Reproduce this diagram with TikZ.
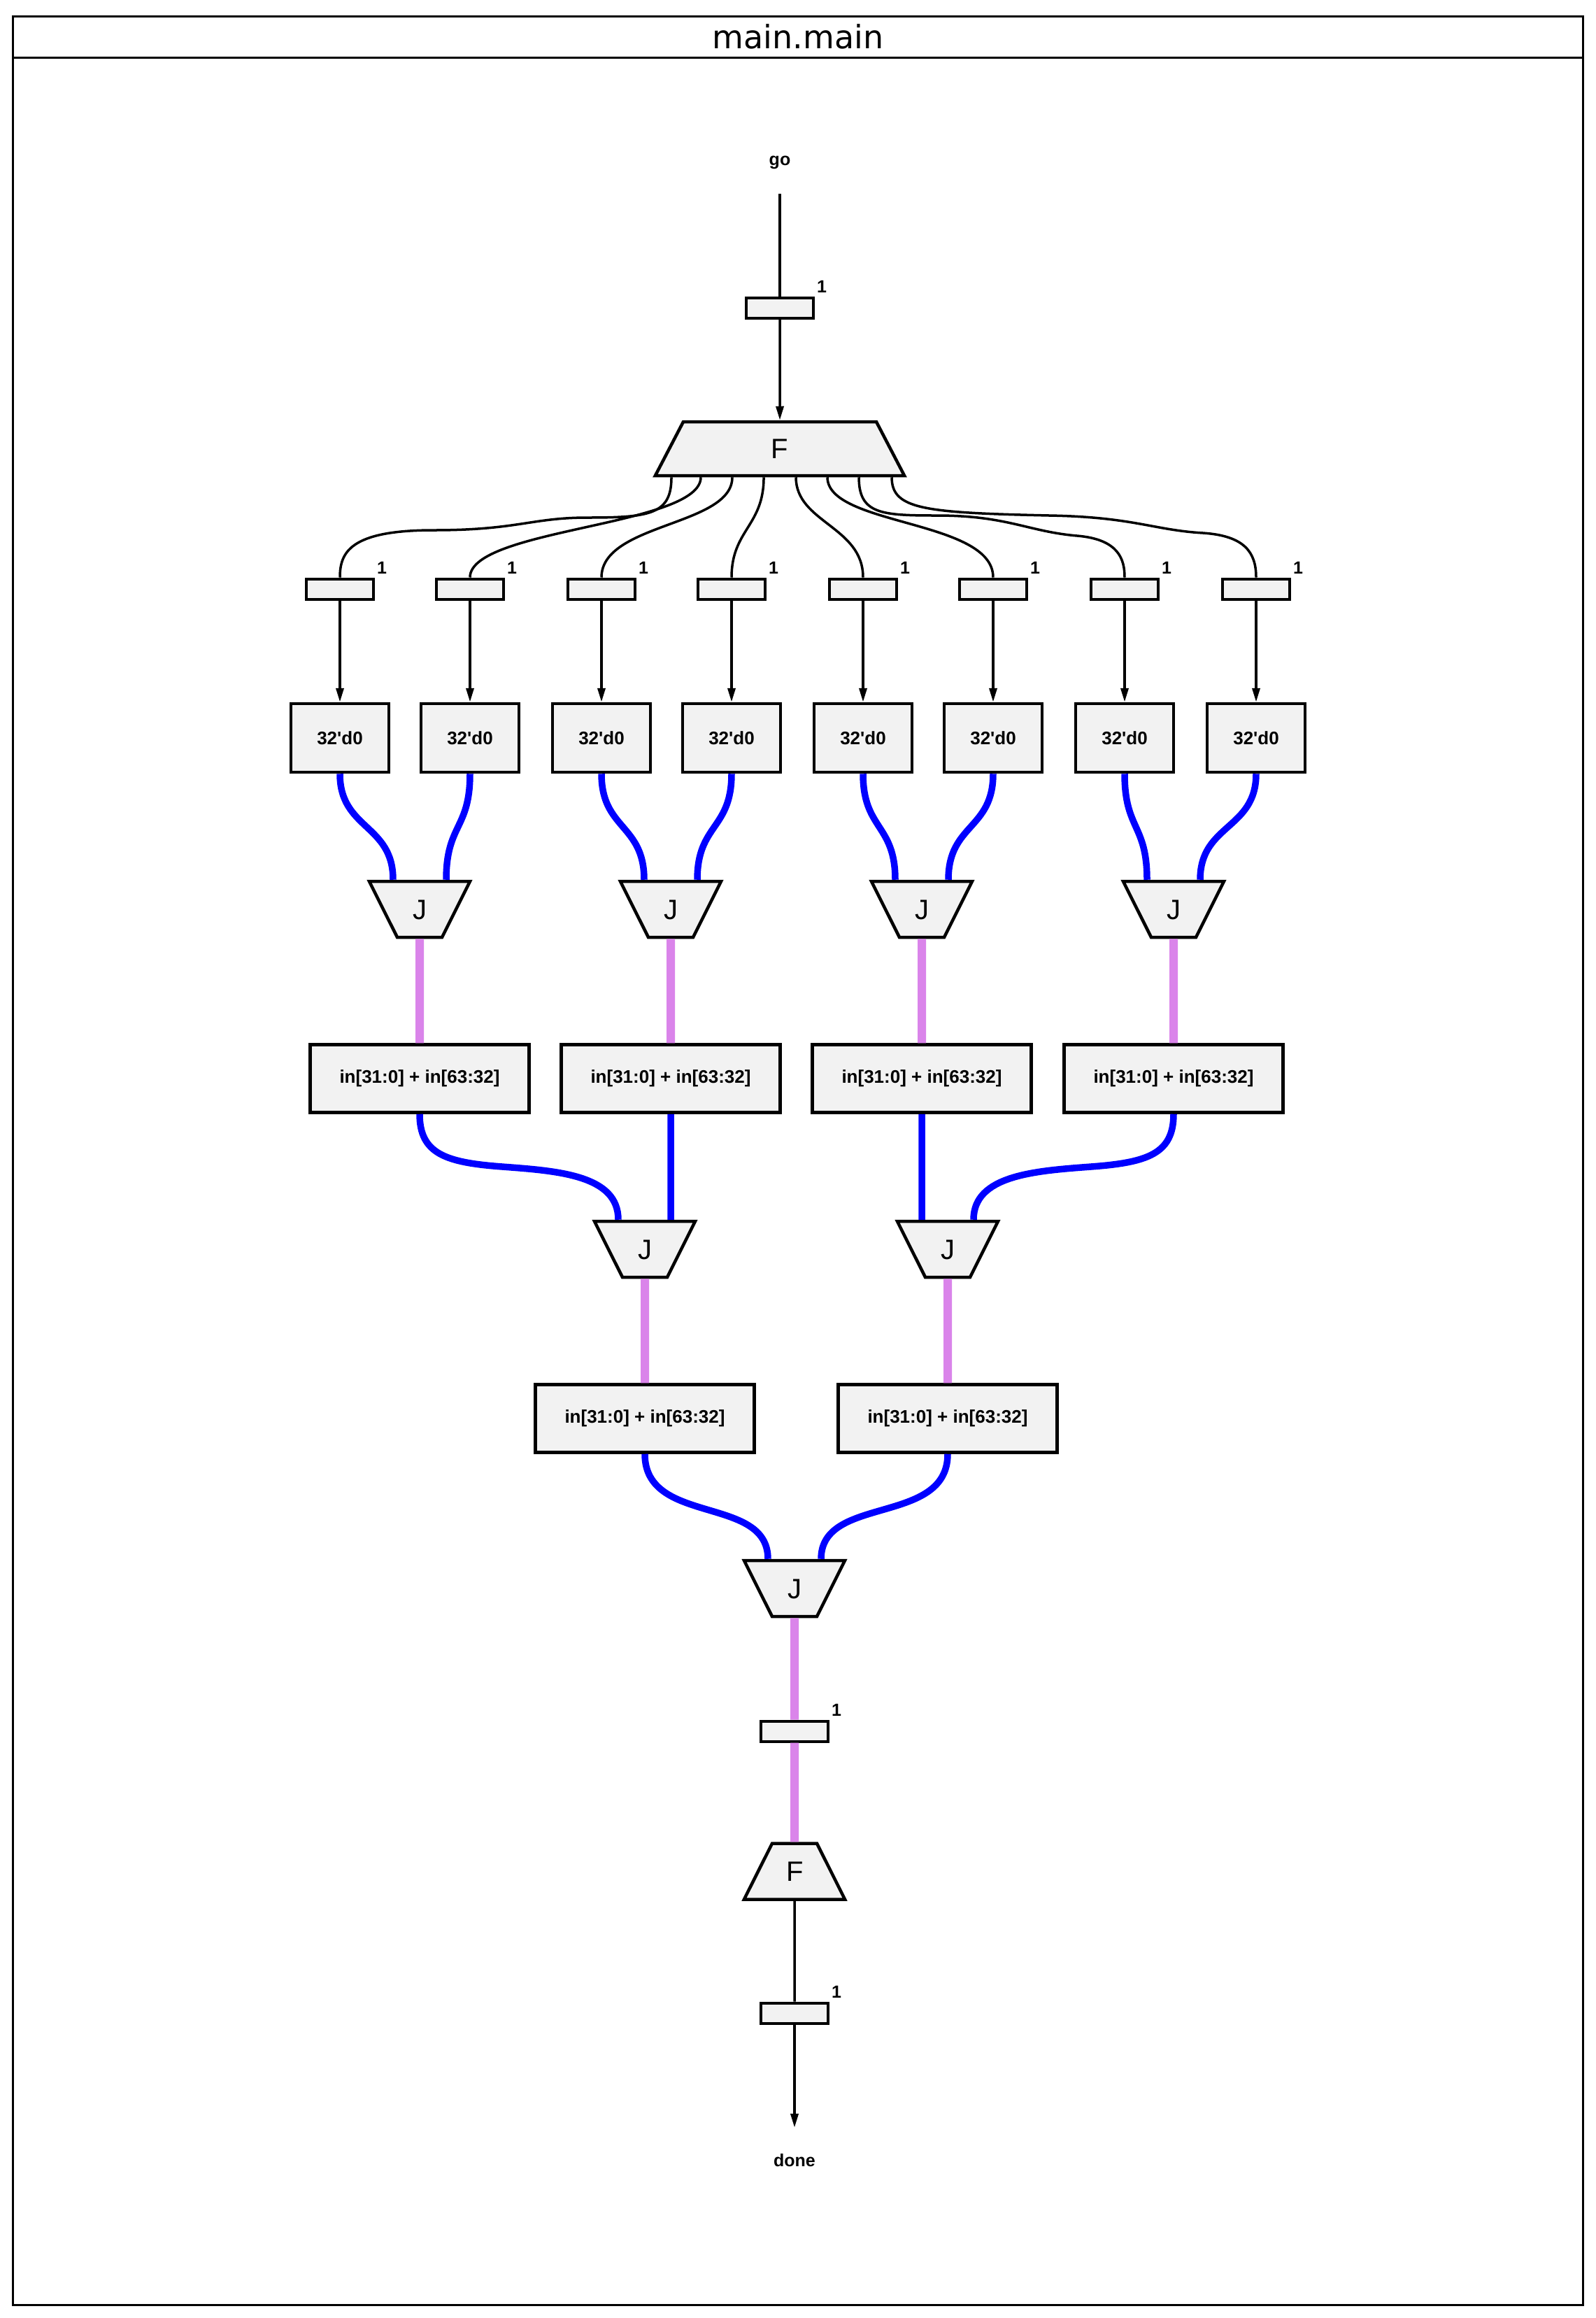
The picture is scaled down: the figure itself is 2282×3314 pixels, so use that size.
\documentclass[tikz,border=0pt]{standalone}
\usepackage{fontspec}
\setmainfont{Liberation Sans}
\newfontfamily\titlefont{DejaVu Sans}
\usetikzlibrary{shapes.geometric,arrows.meta}
\definecolor{boxfill}{HTML}{F2F2F2}
\definecolor{wire}{HTML}{0000FF}
\definecolor{token}{HTML}{DA84EA}

\begin{document}
\begin{tikzpicture}[x=1pt,y=-1pt,
  lbl/.style={font=\bfseries\fontsize{25}{28}\selectfont},
  regbox/.style={draw,fill=boxfill,line width=4pt,minimum width=96pt,minimum height=29pt,inner sep=0pt,
    label={[lbl,anchor=center,xshift=60pt,yshift=14pt]above:1}},
  constbox/.style={draw,fill=boxfill,line width=4.5pt,minimum width=140pt,minimum height=98pt,
    font=\bfseries\fontsize{26}{28}\selectfont},
  sumbox/.style={constbox,minimum width=313pt,minimum height=97pt},
  joinbox/.style={trapezium,shape border rotate=180,trapezium left angle=63.4,trapezium right angle=63.4,
    draw,fill=boxfill,line width=4.5pt,text width=24pt,align=center,text height=28pt,text depth=0pt,
    inner xsep=20pt,inner ysep=26pt,font=\fontsize{40}{44}\selectfont},
  forkbox/.style={joinbox,shape border rotate=0},
  ctl/.style={line width=3.5pt},
  arr/.style={-{Triangle[length=20pt,width=11pt]}},
  datawire/.style={wire,line width=9.5pt},
  tok/.style={token,line width=12pt}]

\useasboundingbox (0,0) rectangle (2282,3314);
\draw[line width=3pt] (18,23) rectangle (2263,3295);
\draw[line width=3pt] (18,82) -- (2263,82);
\node[font=\titlefont\fontsize{46}{50}\selectfont] (title) at (1141,52) {main.main};

\node[lbl,minimum height=90pt] (go) at (1115,232) {go};
\node[regbox] (r0) at (1115,440) {};
\node[forkbox,text width=276pt,inner xsep=0pt,inner ysep=24.5pt,trapezium left angle=62.5,trapezium right angle=62.5] (f1) at (1115,641.5) {F};
\draw[ctl] (go.south) -- (r0.north);
\draw[ctl,arr] (r0.south) -- (f1.north);

\node[regbox] (r1) at (486,842) {};
\node[regbox] (r2) at (672,842) {};
\node[regbox] (r3) at (860,842) {};
\node[regbox] (r4) at (1046,842) {};
\node[regbox] (r5) at (1234,842) {};
\node[regbox] (r6) at (1420,842) {};
\node[regbox] (r7) at (1608,842) {};
\node[regbox] (r8) at (1796,842) {};
\draw[ctl] ([xshift=-155pt]f1.south) .. controls (960,735) and (930,740) .. (840,740) .. controls (760,740) and (740,758) .. (620,758) .. controls (500,758) and (486,790) .. (r1.north);
\draw[ctl] ([xshift=-113pt]f1.south) .. controls +(0,70) and +(0,-70) .. (r2.north);
\draw[ctl] ([xshift=-68pt]f1.south) .. controls +(0,70) and +(0,-78) .. (r3.north);
\draw[ctl] ([xshift=-23pt]f1.south) .. controls +(0,70) and +(0,-68) .. (r4.north);
\draw[ctl] ([xshift=23pt]f1.south) .. controls +(0,65) and +(0,-73) .. (r5.north);
\draw[ctl] ([xshift=68pt]f1.south) .. controls +(0,70) and +(0,-83) .. (r6.north);
\draw[ctl] ([xshift=113pt]f1.south) .. controls (1228,735) and (1260,737) .. (1340,737) .. controls (1440,737) and (1470,760) .. (1540,766) .. controls (1600,771) and (1608,800) .. (r7.north);
\draw[ctl] ([xshift=160pt]f1.south) .. controls (1275,728) and (1320,733) .. (1500,737) .. controls (1620,739) and (1650,758) .. (1720,762) .. controls (1780,766) and (1796,790) .. (r8.north);

\node[constbox] (c1) at (486,1055) {32\textquotesingle d0};
\node[constbox] (c2) at (672,1055) {32\textquotesingle d0};
\node[constbox] (c3) at (860,1055) {32\textquotesingle d0};
\node[constbox] (c4) at (1046,1055) {32\textquotesingle d0};
\node[constbox] (c5) at (1234,1055) {32\textquotesingle d0};
\node[constbox] (c6) at (1420,1055) {32\textquotesingle d0};
\node[constbox] (c7) at (1608,1055) {32\textquotesingle d0};
\node[constbox] (c8) at (1796,1055) {32\textquotesingle d0};
\draw[ctl,arr] (r1.south) -- (c1.north);
\draw[ctl,arr] (r2.south) -- (c2.north);
\draw[ctl,arr] (r3.south) -- (c3.north);
\draw[ctl,arr] (r4.south) -- (c4.north);
\draw[ctl,arr] (r5.south) -- (c5.north);
\draw[ctl,arr] (r6.south) -- (c6.north);
\draw[ctl,arr] (r7.south) -- (c7.north);
\draw[ctl,arr] (r8.south) -- (c8.north);

\node[joinbox] (j1) at (600,1300) {J};
\node[joinbox] (j2) at (959,1300) {J};
\node[joinbox] (j3) at (1318,1300) {J};
\node[joinbox] (j4) at (1678,1300) {J};
\draw[datawire] (c1.south) .. controls +(0,80) and +(0,-80) .. ([xshift=-38pt]j1.north);
\draw[datawire] (c2.south) .. controls +(0,80) and +(0,-80) .. ([xshift=38pt]j1.north);
\draw[datawire] (c3.south) .. controls +(0,80) and +(0,-80) .. ([xshift=-38pt]j2.north);
\draw[datawire] (c4.south) .. controls +(0,80) and +(0,-80) .. ([xshift=38pt]j2.north);
\draw[datawire] (c5.south) .. controls +(0,80) and +(0,-80) .. ([xshift=-38pt]j3.north);
\draw[datawire] (c6.south) .. controls +(0,80) and +(0,-80) .. ([xshift=38pt]j3.north);
\draw[datawire] (c7.south) .. controls +(0,80) and +(0,-80) .. ([xshift=-38pt]j4.north);
\draw[datawire] (c8.south) .. controls +(0,80) and +(0,-80) .. ([xshift=38pt]j4.north);

\node[sumbox] (s1) at (600,1542) {in[31:0] + in[63:32]};
\node[sumbox] (s2) at (959,1542) {in[31:0] + in[63:32]};
\node[sumbox] (s3) at (1318,1542) {in[31:0] + in[63:32]};
\node[sumbox] (s4) at (1678,1542) {in[31:0] + in[63:32]};
\draw[tok] (j1.south) -- (s1.north);
\draw[tok] (j2.south) -- (s2.north);
\draw[tok] (j3.south) -- (s3.north);
\draw[tok] (j4.south) -- (s4.north);

\node[joinbox] (j5) at (922,1786) {J};
\node[joinbox] (j6) at (1355,1786) {J};
\draw[datawire] (s1.south) .. controls (600,1650) and (638,1662) .. (718,1668) .. controls (798,1674) and (884,1680) .. ([xshift=-38pt]j5.north);
\draw[datawire] (s2.south) -- ([xshift=37pt]j5.north);
\draw[datawire] (s3.south) -- ([xshift=-37pt]j6.north);
\draw[datawire] (s4.south) .. controls (1678,1650) and (1640,1662) .. (1560,1668) .. controls (1480,1674) and (1392,1680) .. ([xshift=37pt]j6.north);

\node[sumbox] (s5) at (922,2028) {in[31:0] + in[63:32]};
\node[sumbox] (s6) at (1355,2028) {in[31:0] + in[63:32]};
\draw[tok] (j5.south) -- (s5.north);
\draw[tok] (j6.south) -- (s6.north);

\node[joinbox] (j7) at (1136,2271) {J};
\draw[datawire] (s5.south) .. controls +(0,103) and +(0,-92) .. ([xshift=-38pt]j7.north);
\draw[datawire] (s6.south) .. controls +(0,103) and +(0,-92) .. ([xshift=38pt]j7.north);

\node[regbox] (r9) at (1136,2475) {};
\node[forkbox] (f2) at (1136,2675.5) {F};
\node[regbox] (r10) at (1136,2878) {};
\node[lbl,minimum height=94pt] (done) at (1136,3089) {done};
\draw[tok] (j7.south) -- (r9.north);
\draw[tok] (r9.south) -- (f2.north);
\draw[ctl] (f2.south) -- (r10.north);
\draw[ctl,arr] (r10.south) -- (done.north);
\end{tikzpicture}
\end{document}
